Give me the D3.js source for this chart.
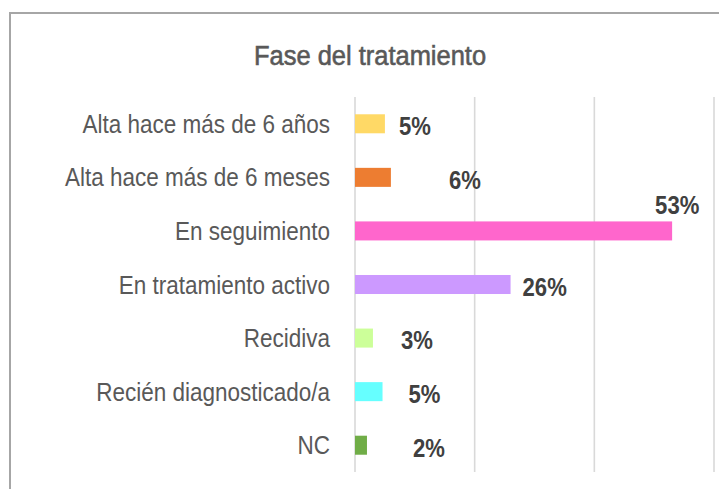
<!DOCTYPE html>
<html>
<head>
<meta charset="utf-8">
<script src="https://cdn.jsdelivr.net/npm/d3@7"></script>
<style>
  html, body { margin: 0; padding: 0; background: #ffffff; }
  svg { display: block; }
</style>
</head>
<body>
<svg id="chart" width="719" height="489"></svg>
<script>
// ---- data ----
const title = "Fase del tratamiento";
const categories = [
  "Alta hace más de 6 años",
  "Alta hace más de 6 meses",
  "En seguimiento",
  "En tratamiento activo",
  "Recidiva",
  "Recién diagnosticado/a",
  "NC"
];
const values = [5, 6, 53, 26, 3, 4.6, 2];
const valueLabels = ["5%", "6%", "53%", "26%", "3%", "5%", "2%"];
const barColors = ["#FFD966", "#ED7D31", "#FF66CC", "#CC99FF", "#CCFF99", "#66FFFF", "#70AD47"];
const xTicks = [0, 20, 40, 60];
// label offsets (px) from the bar end, as manually placed in the original
const labelDx = [14, 58, -17, 12, 28, 26, 46];
const labelDy = [2, 2.5, -26, 1.5, 1.5, 2, 2];

// ---- layout ----
const svg = d3.select("#chart");
const W = 719, H = 489;
const plot = { left: 355, right: 714, top: 97, bottom: 472 };
const FONT = "Liberation Sans, Arial, sans-serif";

svg.append("rect").attr("x", 0).attr("y", 0).attr("width", W).attr("height", H).attr("fill", "#fff");
// chart area border (only top and left visible in the crop)
svg.append("rect")
  .attr("x", 10).attr("y", 13).attr("width", 760).attr("height", 520)
  .attr("fill", "none").attr("stroke", "#A6A6A6").attr("stroke-width", 2);

const x = d3.scaleLinear().domain([0, 60]).range([plot.left, plot.right]);
const y = d3.scaleBand().domain(categories).range([plot.top, plot.bottom])
  .paddingInner(0.645).paddingOuter(0.3225);

// gridlines
svg.append("g").selectAll("line").data(xTicks).join("line")
  .attr("x1", d => x(d)).attr("x2", d => x(d))
  .attr("y1", plot.top).attr("y2", plot.bottom)
  .attr("stroke", "#D9D9D9").attr("stroke-width", 1.6);

// title
svg.append("text")
  .attr("transform", `translate(370,65) scale(0.91,1)`)
  .attr("text-anchor", "middle")
  .attr("font-family", FONT)
  .attr("font-size", 28)
  .attr("fill", "#595959")
  .attr("stroke", "#595959").attr("stroke-width", 0.6)
  .text(title);

// category labels
const bw = y.bandwidth();
svg.append("g").selectAll("text").data(categories).join("text")
  .attr("transform", d => `translate(330,${y(d) + bw / 2 + 9}) scale(0.9,1)`)
  .attr("text-anchor", "end")
  .attr("font-family", FONT)
  .attr("font-size", 25)
  .attr("fill", "#595959")
  .text(d => d);

// bars
svg.append("g").selectAll("rect").data(categories).join("rect")
  .attr("x", x(0))
  .attr("y", d => y(d))
  .attr("width", (d, i) => x(values[i]) - x(0))
  .attr("height", bw)
  .attr("fill", (d, i) => barColors[i]);

// value labels
svg.append("g").selectAll("text").data(categories).join("text")
  .attr("transform", (d, i) => `translate(${x(values[i]) + labelDx[i]},${y(d) + bw / 2 + labelDy[i] + 9.5}) scale(0.85,1)`)
  .attr("text-anchor", "start")
  .attr("font-family", FONT)
  .attr("font-weight", "bold")
  .attr("font-size", 26)
  .attr("fill", "#404040")
  .text((d, i) => valueLabels[i]);
</script>
</body>
</html>
